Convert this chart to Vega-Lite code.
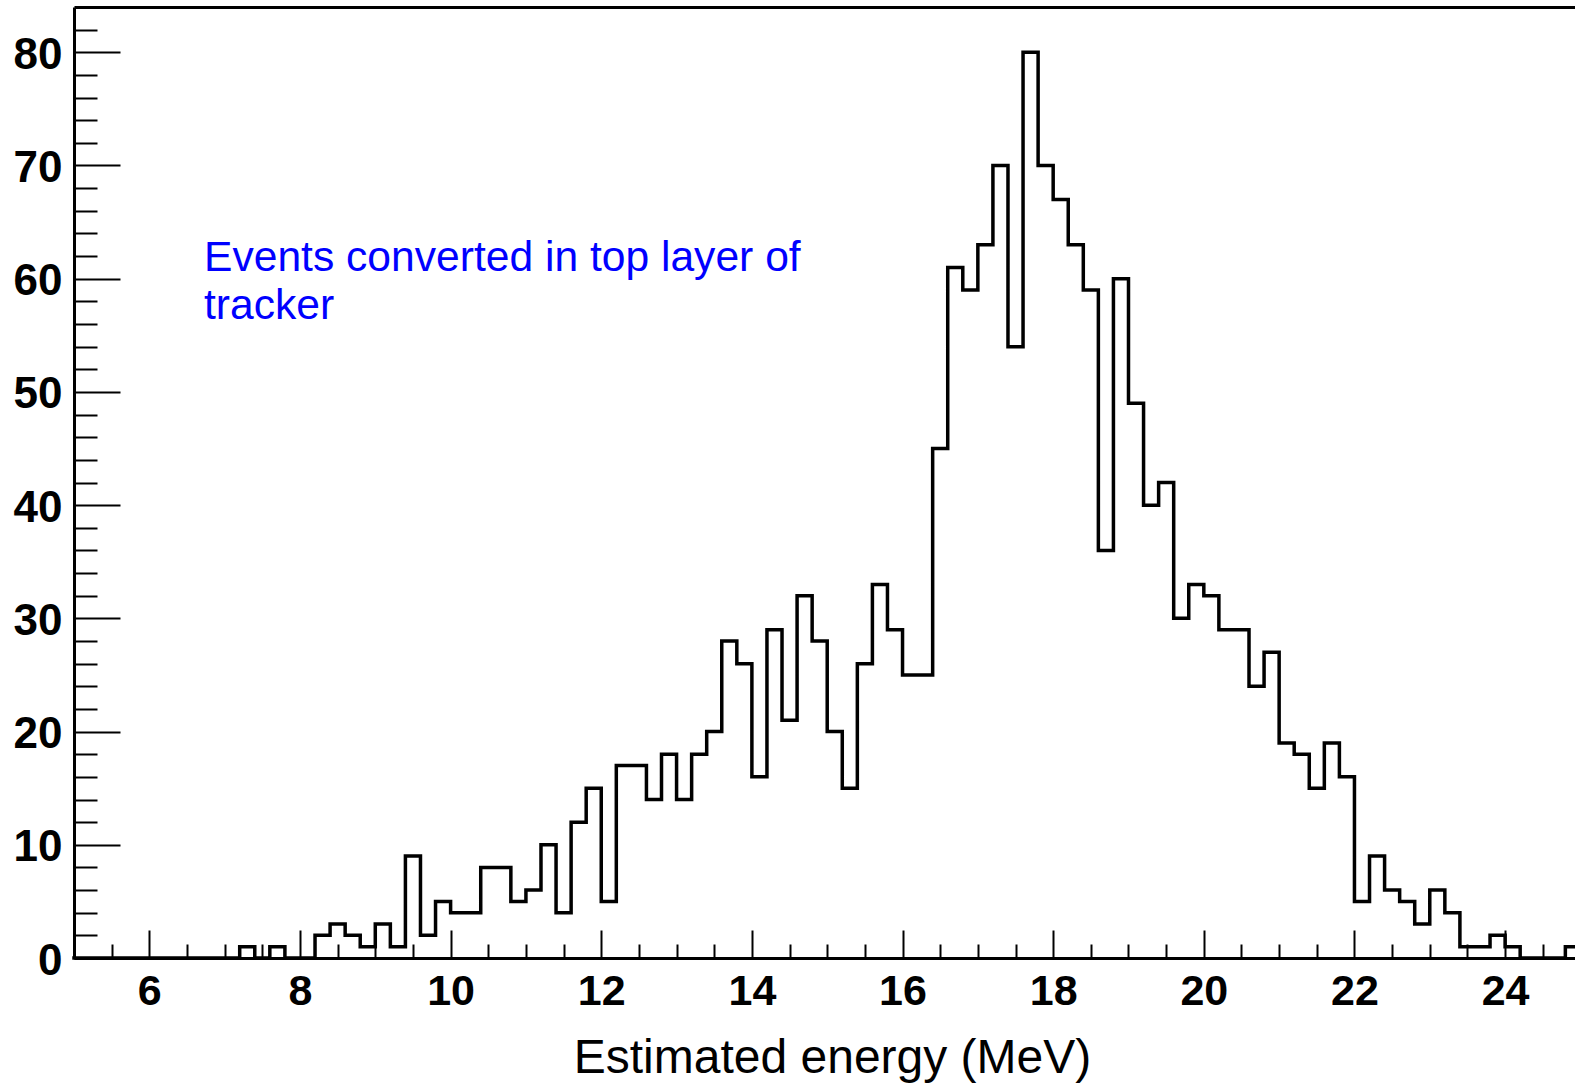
{
  "$schema": "https://vega.github.io/schema/vega-lite/v6.json",
  "autosize": {"type": "none"},
  "width": 1501,
  "height": 951,
  "padding": {"left": 74, "top": 7, "right": 0, "bottom": 128},
  "background": "white",
  "config": {"view": {"stroke": null}},
  "data": {
    "values": [
      {"e": 5.0, "n": 0}, {"e": 5.2, "n": 0}, {"e": 5.4, "n": 0}, {"e": 5.6, "n": 0}, {"e": 5.8, "n": 0},
      {"e": 6.0, "n": 0}, {"e": 6.2, "n": 0}, {"e": 6.4, "n": 0}, {"e": 6.6, "n": 0}, {"e": 6.8, "n": 0},
      {"e": 7.0, "n": 0}, {"e": 7.2, "n": 1}, {"e": 7.4, "n": 0}, {"e": 7.6, "n": 1}, {"e": 7.8, "n": 0},
      {"e": 8.0, "n": 0}, {"e": 8.2, "n": 2}, {"e": 8.4, "n": 3}, {"e": 8.6, "n": 2}, {"e": 8.8, "n": 1},
      {"e": 9.0, "n": 3}, {"e": 9.2, "n": 1}, {"e": 9.4, "n": 9}, {"e": 9.6, "n": 2}, {"e": 9.8, "n": 5},
      {"e": 10.0, "n": 4}, {"e": 10.2, "n": 4}, {"e": 10.4, "n": 8}, {"e": 10.6, "n": 8}, {"e": 10.8, "n": 5},
      {"e": 11.0, "n": 6}, {"e": 11.2, "n": 10}, {"e": 11.4, "n": 4}, {"e": 11.6, "n": 12}, {"e": 11.8, "n": 15},
      {"e": 12.0, "n": 5}, {"e": 12.2, "n": 17}, {"e": 12.4, "n": 17}, {"e": 12.6, "n": 14}, {"e": 12.8, "n": 18},
      {"e": 13.0, "n": 14}, {"e": 13.2, "n": 18}, {"e": 13.4, "n": 20}, {"e": 13.6, "n": 28}, {"e": 13.8, "n": 26},
      {"e": 14.0, "n": 16}, {"e": 14.2, "n": 29}, {"e": 14.4, "n": 21}, {"e": 14.6, "n": 32}, {"e": 14.8, "n": 28},
      {"e": 15.0, "n": 20}, {"e": 15.2, "n": 15}, {"e": 15.4, "n": 26}, {"e": 15.6, "n": 33}, {"e": 15.8, "n": 29},
      {"e": 16.0, "n": 25}, {"e": 16.2, "n": 25}, {"e": 16.4, "n": 45}, {"e": 16.6, "n": 61}, {"e": 16.8, "n": 59},
      {"e": 17.0, "n": 63}, {"e": 17.2, "n": 70}, {"e": 17.4, "n": 54}, {"e": 17.6, "n": 80}, {"e": 17.8, "n": 70},
      {"e": 18.0, "n": 67}, {"e": 18.2, "n": 63}, {"e": 18.4, "n": 59}, {"e": 18.6, "n": 36}, {"e": 18.8, "n": 60},
      {"e": 19.0, "n": 49}, {"e": 19.2, "n": 40}, {"e": 19.4, "n": 42}, {"e": 19.6, "n": 30}, {"e": 19.8, "n": 33},
      {"e": 20.0, "n": 32}, {"e": 20.2, "n": 29}, {"e": 20.4, "n": 29}, {"e": 20.6, "n": 24}, {"e": 20.8, "n": 27},
      {"e": 21.0, "n": 19}, {"e": 21.2, "n": 18}, {"e": 21.4, "n": 15}, {"e": 21.6, "n": 19}, {"e": 21.8, "n": 16},
      {"e": 22.0, "n": 5}, {"e": 22.2, "n": 9}, {"e": 22.4, "n": 6}, {"e": 22.6, "n": 5}, {"e": 22.8, "n": 3},
      {"e": 23.0, "n": 6}, {"e": 23.2, "n": 4}, {"e": 23.4, "n": 1}, {"e": 23.6, "n": 1}, {"e": 23.8, "n": 2},
      {"e": 24.0, "n": 1}, {"e": 24.2, "n": 0}, {"e": 24.4, "n": 0}, {"e": 24.6, "n": 0}, {"e": 24.8, "n": 1},
      {"e": 25.0, "n": 1}
    ]
  },
  "layer": [
    {
      "mark": {"type": "line", "interpolate": "step-after", "color": "black", "strokeWidth": 3.5, "strokeJoin": "miter", "strokeCap": "square"},
      "encoding": {
        "x": {
          "field": "e", "type": "quantitative",
          "scale": {"domain": [5, 24.928], "nice": false, "zero": false},
          "axis": {
            "orient": "bottom",
            "values": [6, 8, 10, 12, 14, 16, 18, 20, 22, 24],
            "tickSize": -28, "tickWidth": 2, "tickColor": "black",
            "domainColor": "black", "domainWidth": 3,
            "grid": false,
            "labelFont": "Liberation Sans", "labelFontWeight": "bold", "labelFontSize": 43,
            "labelColor": "black", "labelPadding": 40, "labelFlush": false, "labelOverlap": false,
            "title": "Estimated energy (MeV)",
            "titleFont": "Liberation Sans", "titleFontWeight": "normal", "titleFontSize": 48,
            "titleColor": "black", "titlePadding": 21, "titleX": 758
          }
        },
        "y": {
          "field": "n", "type": "quantitative",
          "scale": {"domain": [0, 84], "nice": false},
          "axis": {
            "orient": "left",
            "values": [0, 10, 20, 30, 40, 50, 60, 70, 80],
            "tickSize": -46, "tickWidth": 2, "tickColor": "black",
            "domainColor": "black", "domainWidth": 3,
            "grid": false,
            "labelFont": "Liberation Sans", "labelFontWeight": "bold", "labelFontSize": 44,
            "labelColor": "black", "labelPadding": 58, "labelOffset": 3, "labelFlush": false, "labelOverlap": false,
            "title": null
          }
        }
      }
    },
    {
      "mark": {"type": "point", "opacity": 0},
      "encoding": {
        "x": {
          "field": "e", "type": "quantitative",
          "axis": {
            "orient": "bottom",
            "values": [5.5, 6.5, 7, 7.5, 8.5, 9, 9.5, 10.5, 11, 11.5, 12.5, 13, 13.5, 14.5, 15, 15.5, 16.5, 17, 17.5, 18.5, 19, 19.5, 20.5, 21, 21.5, 22.5, 23, 23.5, 24.5],
            "tickSize": -14, "tickWidth": 2, "tickColor": "black",
            "domain": false, "labels": false, "grid": false, "title": null
          }
        },
        "y": {
          "field": "n", "type": "quantitative",
          "axis": {
            "orient": "left",
            "values": [2, 4, 6, 8, 12, 14, 16, 18, 22, 24, 26, 28, 32, 34, 36, 38, 42, 44, 46, 48, 52, 54, 56, 58, 62, 64, 66, 68, 72, 74, 76, 78, 82],
            "tickSize": -23, "tickWidth": 2, "tickColor": "black",
            "domain": false, "labels": false, "grid": false, "title": null
          }
        }
      }
    },
    {
      "data": {"values": [{"note": "annotation"}]},
      "mark": {
        "type": "text", "align": "left", "baseline": "alphabetic",
        "font": "Liberation Sans", "fontSize": 42.6, "fontWeight": "normal", "color": "#0000ff", "lineHeight": 48
      },
      "encoding": {
        "x": {
          "datum": 6.726, "type": "quantitative",
          "axis": {
            "orient": "top", "domain": true, "domainColor": "black", "domainWidth": 3,
            "ticks": false, "labels": false, "grid": false, "title": null
          }
        },
        "y": {"datum": 60.7, "type": "quantitative", "axis": null},
        "text": {"value": ["Events converted in top layer of", "tracker"]}
      }
    }
  ],
  "resolve": {"axis": {"x": "independent", "y": "independent"}}
}
